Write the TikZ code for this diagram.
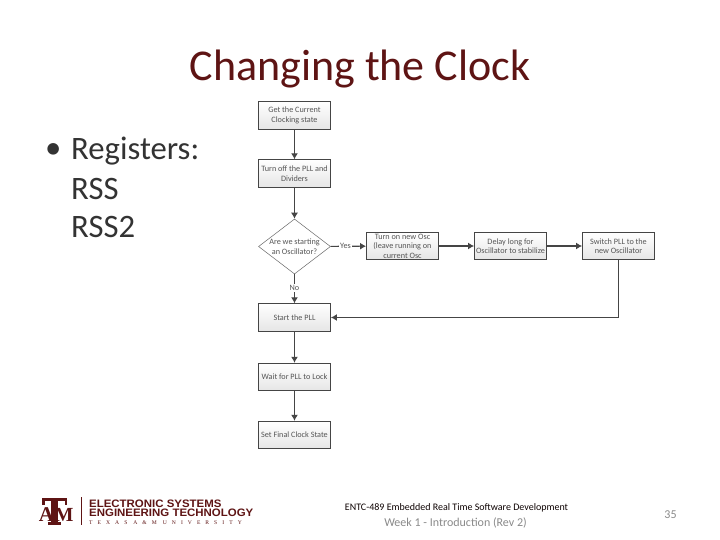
\documentclass[tikz,border=0pt]{standalone}
\usepackage{fontspec}
\setmainfont{Carlito}
\newfontfamily\logofont[FakeStretch=1.06]{Liberation Sans}
\newfontfamily\atmfont{Liberation Serif}
\newfontfamily\trackfont[LetterSpace=90]{Liberation Serif}
\usetikzlibrary{arrows.meta,shapes.geometric}
\definecolor{maroon}{HTML}{5E1414}
\definecolor{boxline}{HTML}{454545}
\definecolor{boxtext}{HTML}{555555}
\definecolor{subtext}{HTML}{8A8A8A}
\tikzset{
  flowbox/.style={draw=boxline,line width=0.9pt,top color=white,bottom color=black!10,
    minimum width=72pt,minimum height=27.5pt,inner sep=0pt,align=center,
    font=\fontsize{8.2}{9.4}\selectfont,text=boxtext},
  decide/.style={diamond,draw=boxline!80,line width=0.5pt,fill=white,
    minimum width=72pt,minimum height=55pt,inner sep=0pt,aspect=1.3,align=center,
    font=\fontsize{8.2}{10}\selectfont,text=boxtext},
  flow/.style={draw=boxline,line width=1.1pt,-{Latex[length=6pt,width=7pt]}},
  lab/.style={fill=white,inner sep=1pt,font=\fontsize{8.2}{10}\selectfont,text=boxtext},
  plain/.style={inner sep=0pt,anchor=west},
  bodytext/.style={plain,font=\fontsize{32.7}{36}\selectfont,text=black!80},
  logobar/.style={fill=maroon,draw=none}
}
\begin{document}
\begin{tikzpicture}[x=1pt,y=-1pt]
\useasboundingbox (0,0) rectangle (720,540);
\fill[white] (0,0) rectangle (720,540);
\node[inner sep=0pt,text=maroon,font=\fontsize{44}{48}\selectfont] (title) at (360,69) {Changing the Clock};
\node[bodytext] (bul) at (45,151) {•};
\node[bodytext] (reg) at (71,151) {Registers:};
\node[bodytext] (rss) at (71,189) {RSS};
\node[bodytext] (rsst) at (71,227) {RSS2};

\node[flowbox] (get) at (294.5,115.5) {Get the Current\\Clocking state};
\node[flowbox] (off) at (294.5,173.5) {Turn off the PLL and\\Dividers};
\node[decide] (dec) at (294.5,246.5) {Are we starting\\an Oscillator?};
\node[flowbox] (osc) at (402.5,246) {Turn on new Osc\\(leave running on\\current Osc};
\node[flowbox] (del) at (510.5,246) {Delay long for\\Oscillator to stabilize};
\node[flowbox] (swi) at (618.5,246) {Switch PLL to the\\new Oscillator};
\node[flowbox] (sta) at (294.5,317.5) {Start the PLL};
\node[flowbox] (wai) at (294.5,377) {Wait for PLL to Lock};
\node[flowbox] (fin) at (294.5,435) {Set Final Clock State};

\draw[flow] (get) -- (off);
\draw[flow] (off) -- (dec);
\draw[flow] (dec) -- node[lab,pos=0.42]{Yes} (osc);
\draw[flow] (osc) -- (del);
\draw[flow] (del) -- (swi);
\draw[flow] (dec) -- node[lab,pos=0.47]{No} (sta);
\draw[flow] (swi.south) |- (sta.east);
\draw[flow] (sta) -- (wai);
\draw[flow] (wai) -- (fin);

% logo
\node[inner sep=0pt,text=maroon,font=\atmfont\bfseries\fontsize{21}{21}\selectfont] (lga) at (46.5,514.5) {A};
\node[inner sep=0pt,text=maroon,font=\atmfont\bfseries\fontsize{20}{20}\selectfont] (lgm) at (64,514.5) {M};
\fill[logobar] (42,498) rectangle (67,501);
\fill[logobar] (42,498) rectangle (44.5,505);
\fill[logobar] (64.5,498) rectangle (67,505);
\fill[logobar] (50.5,498) rectangle (57.5,522);
\fill[logobar] (47.5,522) rectangle (60.5,525);
\draw[maroon,line width=0.8pt] (81,497) -- (81,525);
\node[plain,align=left,text=maroon,font=\logofont\bfseries\fontsize{10.8}{9.2}\selectfont] (l1) at (89,508.5) {ELECTRONIC SYSTEMS\\ENGINEERING TECHNOLOGY};
\node[plain,text=maroon,font=\trackfont\fontsize{5.6}{6}\selectfont] (l3) at (89,523) {TEXAS\hspace{6pt}A\&M\hspace{6pt}UNIVERSITY};

\node[inner sep=0pt,text=black!85!maroon,font=\fontsize{10}{12}\selectfont] (foot) at (456.5,508) {ENTC-489 Embedded Real Time Software Development};
\node[inner sep=0pt,text=subtext,font=\fontsize{12}{14}\selectfont] (week) at (455.5,523) {Week 1 - Introduction (Rev 2)};
\node[inner sep=0pt,text=subtext,font=\fontsize{12}{14}\selectfont] (num) at (670.5,515) {35};
\end{tikzpicture}
\end{document}
